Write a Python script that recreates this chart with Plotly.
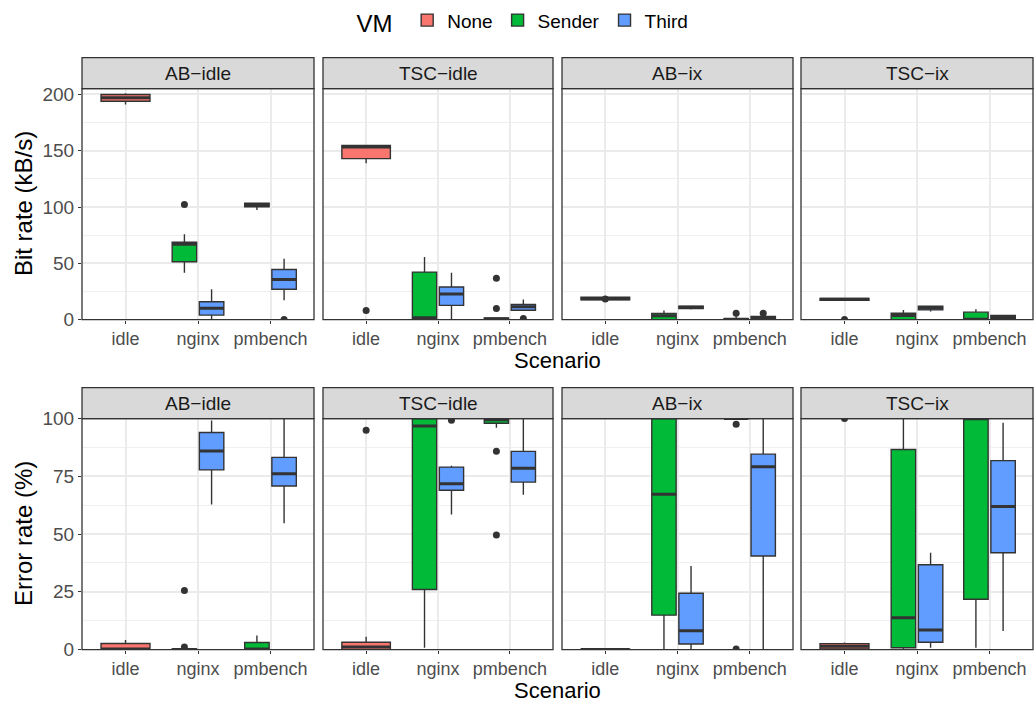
import plotly.graph_objects as go

# ---------------- data ----------------
scenarios = ["idle", "nginx", "pmbench"]
panels = ["AB\u2212idle", "TSC\u2212idle", "AB\u2212ix", "TSC\u2212ix"]
vms = ["None", "Sender", "Third"]
vm_colors = {"None": "#F8766D", "Sender": "#00BA38", "Third": "#619CFF"}

# stats per box: [lower whisker, q1, median, q3, upper whisker]
# Bit rate (kB/s) -- None VM only in "idle"; one entry per panel
bit_none = [[191, 194, 197, 200, 201], [139, 143, 153.4, 154.6, 155],
            [17.5, 17.5, 18.6, 19.8, 19.8], [17.2, 17.2, 18.1, 18.7, 18.7]]
bit_none_out = [[], [8], [18.3], [0]]
# Sender / Third: per panel, [nginx, pmbench]
bit_sender = [[[41.7, 51.4, 67, 68.7, 75.9], [97.4, 100.3, 102, 103.4, 104]],
              [[0, 1.2, 1.5, 42.2, 55.7], [0, 0, 0.5, 1.5, 1.5]],
              [[0, 0, 3.4, 5.5, 8], [0, 0, 0.3, 0.8, 2.9]],
              [[0, 0, 3.7, 5.7, 8.6], [0, 0, 0.3, 6.6, 9.2]]]
bit_sender_out = [[[102.3], []], [[], [36.8, 9.8]], [[], [5.7]], [[], []]]
bit_third = [[[0, 4, 10.1, 15.8, 27], [17.2, 27, 35.6, 44.5, 54]],
             [[0, 12.6, 22.7, 29, 41.7], [8.3, 8.3, 11.5, 13.5, 17.8]],
             [[8.9, 9.8, 10.9, 11.8, 12.6], [0, 0, 1.4, 2.9, 2.9]],
             [[7.2, 8.6, 10.3, 11.8, 12.4], [0, 1.1, 2.6, 3.7, 3.7]]]
bit_third_out = [[[], [0]], [[], [0.9]], [[], [5.7]], [[], []]]

# Error rate (%)
err_none = [[0, 0, 0.3, 2.65, 4.2], [0, 0, 1.1, 3.2, 5.6],
            [0, 0, 0, 0.2, 0.2], [0.3, 0.3, 1.4, 2.6, 3.1]]
err_none_out = [[], [95], [], [100]]
err_sender = [[[0, 0, 0, 0.3, 0.5], [0, 0, 0.3, 3.1, 6.1]],
              [[0.8, 26, 96.8, 100, 100], [96, 98, 99.5, 100, 100]],
              [[0, 14.9, 67.3, 100, 100], [100, 100, 100, 100, 100]],
              [[0, 0.8, 13.8, 86.6, 100], [0.8, 21.8, 100, 100, 100]]]
err_sender_out = [[[25.6, 1.1], []], [[], [85.9, 49.6]], [[], [97.6, 0.3]], [[], []]]
err_third = [[[62.8, 77.8, 86, 94, 99.2], [54.7, 70.8, 76.1, 83.2, 100]],
             [[58.5, 69, 71.8, 79, 79.6], [67, 72.5, 78.5, 85.8, 100]],
             [[0.3, 2.4, 8.2, 24.4, 36.2], [0, 40.5, 79.2, 84.6, 100]],
             [[0.8, 3.2, 8.5, 36.7, 41.9], [8, 41.9, 61.9, 81.8, 98.2]]]
err_third_out = [[[], []], [[99.3], []], [[], []], [[], []]]

y_titles = ["Bit rate (kB/s)", "Error rate (%)"]
y_ranges = [[0, 205.2], [0, 100]]
y_ticks = [[0, 50, 100, 150, 200], [0, 25, 50, 75, 100]]
x_title = "Scenario"

# ---------------- layout geometry (px) ----------------
W, H = 1036, 713
col_px = [(82, 314), (323, 553), (562, 793), (801, 1033)]
row_px = [(81, 319), (421, 659)]
strip_h = 32
DODGE = 0.75
PAD = 0.1
FONT = "Liberation Sans, Arial, sans-serif"


def fx(px):
    return px / W


def fy(py):
    return 1 - py / H


LINE = "#333333"
fig = go.Figure()
layout = dict(width=W, height=H, margin=dict(l=0, r=0, t=0, b=0),
              paper_bgcolor="white", plot_bgcolor="white", showlegend=True,
              font=dict(family=FONT))
shapes, annotations = [], []

rows = [
    (bit_none, bit_none_out, bit_sender, bit_sender_out, bit_third, bit_third_out),
    (err_none, err_none_out, err_sender, err_sender_out, err_third, err_third_out),
]

legend_done = set()


def add_boxes(vm, xs, stats, width, xa, ya):
    if not xs:
        return
    show = vm not in legend_done
    legend_done.add(vm)
    fig.add_trace(go.Box(
        x=xs, lowerfence=[s[0] for s in stats], q1=[s[1] for s in stats],
        median=[s[2] for s in stats], q3=[s[3] for s in stats],
        upperfence=[s[4] for s in stats], width=width, whiskerwidth=0,
        fillcolor=vm_colors[vm], line=dict(color=LINE, width=1.4),
        boxpoints=False, name=vm, legendgroup=vm, showlegend=show,
        xaxis=xa, yaxis=ya, hoverinfo="skip"))
    # thicker median line (ggplot fatten)
    fig.add_trace(go.Box(
        x=xs, lowerfence=[s[2] for s in stats], q1=[s[2] for s in stats],
        median=[s[2] for s in stats], q3=[s[2] for s in stats],
        upperfence=[s[2] for s in stats], width=width, whiskerwidth=0,
        fillcolor="rgba(0,0,0,0)", line=dict(color=LINE, width=3),
        boxpoints=False, showlegend=False, legendgroup=vm,
        xaxis=xa, yaxis=ya, hoverinfo="skip"))


for r, (n_st, n_out, s_st, s_out, t_st, t_out) in enumerate(rows):
    for c, pname in enumerate(panels):
        k = r * 4 + c + 1
        xa, ya = f"x{k}", f"y{k}"
        sfx = "" if k == 1 else str(k)
        x0, x1 = col_px[c]
        y0, y1 = row_px[r]
        layout["xaxis" + sfx] = dict(
            domain=[fx(x0), fx(x1)], anchor=ya, range=[0.4, 3.6],
            tickvals=[1, 2, 3], ticktext=scenarios, ticks="outside", ticklen=3,
            tickcolor=LINE, tickwidth=1, showgrid=True, gridcolor="#EBEBEB",
            gridwidth=2, zeroline=False, showline=False,
            tickfont=dict(size=18, color="#4D4D4D"), fixedrange=True)
        layout["yaxis" + sfx] = dict(
            domain=[fy(y1), fy(y0)], anchor=xa, range=y_ranges[r],
            tickvals=y_ticks[r], ticks="outside" if c == 0 else "",
            ticklen=3, tickcolor=LINE, showticklabels=(c == 0),
            showgrid=True, gridcolor="#EBEBEB", gridwidth=2,
            minor=dict(tickvals=[(y_ticks[r][i] + y_ticks[r][i + 1]) / 2
                                 for i in range(len(y_ticks[r]) - 1)],
                       showgrid=True, gridcolor="#EFEFEF", gridwidth=1.2, ticks=""),
            zeroline=False, showline=False,
            tickfont=dict(size=19, color="#4D4D4D"), fixedrange=True)

        # None (idle only, full dodge width)
        add_boxes("None", [1], [n_st[c]], DODGE * (1 - PAD), xa, ya)
        # Sender / Third dodged at nginx and pmbench
        half = DODGE / 2
        s_x = [2 - half / 2, 3 - half / 2]
        t_x = [2 + half / 2, 3 + half / 2]
        add_boxes("Sender", s_x, s_st[c], half * (1 - PAD), xa, ya)
        add_boxes("Third", t_x, t_st[c], half * (1 - PAD), xa, ya)

        # outliers
        ox, oy = [], []
        for v in n_out[c]:
            ox.append(1); oy.append(v)
        for j in range(2):
            for v in s_out[c][j]:
                ox.append(s_x[j]); oy.append(v)
            for v in t_out[c][j]:
                ox.append(t_x[j]); oy.append(v)
        if ox:
            fig.add_trace(go.Scatter(x=ox, y=oy, mode="markers",
                                     marker=dict(color=LINE, size=7),
                                     showlegend=False, xaxis=xa, yaxis=ya,
                                     hoverinfo="skip"))

        # panel border
        shapes.append(dict(type="rect", xref="paper", yref="paper",
                           x0=fx(x0), x1=fx(x1), y0=fy(y1), y1=fy(y0),
                           line=dict(color=LINE, width=1.3), layer="above"))
        # strip
        shapes.append(dict(type="rect", xref="paper", yref="paper",
                           x0=fx(x0), x1=fx(x1), y0=fy(y0), y1=fy(y0 - strip_h),
                           fillcolor="#D9D9D9", line=dict(color=LINE, width=1.3),
                           layer="above"))
        annotations.append(dict(text=pname, xref="paper", yref="paper",
                                x=fx((x0 + x1) / 2), y=fy(y0 - strip_h / 2),
                                showarrow=False, xanchor="center", yanchor="middle",
                                font=dict(size=19, color="#1A1A1A")))

    # axis titles
    y0, y1 = row_px[r]
    annotations.append(dict(text=y_titles[r], xref="paper", yref="paper",
                            x=fx(23), y=fy((y0 + y1) / 2), textangle=-90,
                            showarrow=False, xanchor="center", yanchor="middle",
                            font=dict(size=24, color="black")))
    annotations.append(dict(text=x_title, xref="paper", yref="paper",
                            x=fx((col_px[0][0] + col_px[-1][1]) / 2),
                            y=fy(y1 + 42), showarrow=False,
                            xanchor="center", yanchor="middle",
                            font=dict(size=22, color="black")))

layout["shapes"] = shapes
layout["annotations"] = annotations
layout["legend"] = dict(orientation="h", x=fx(524), xanchor="center",
                        y=fy(-9), yanchor="top",
                        title=dict(text="VM ", font=dict(size=24, color="black")),
                        font=dict(size=19, color="black"),
                        bgcolor="rgba(0,0,0,0)", itemwidth=30)
fig.update_layout(**layout)
fig.write_html("out.html")
